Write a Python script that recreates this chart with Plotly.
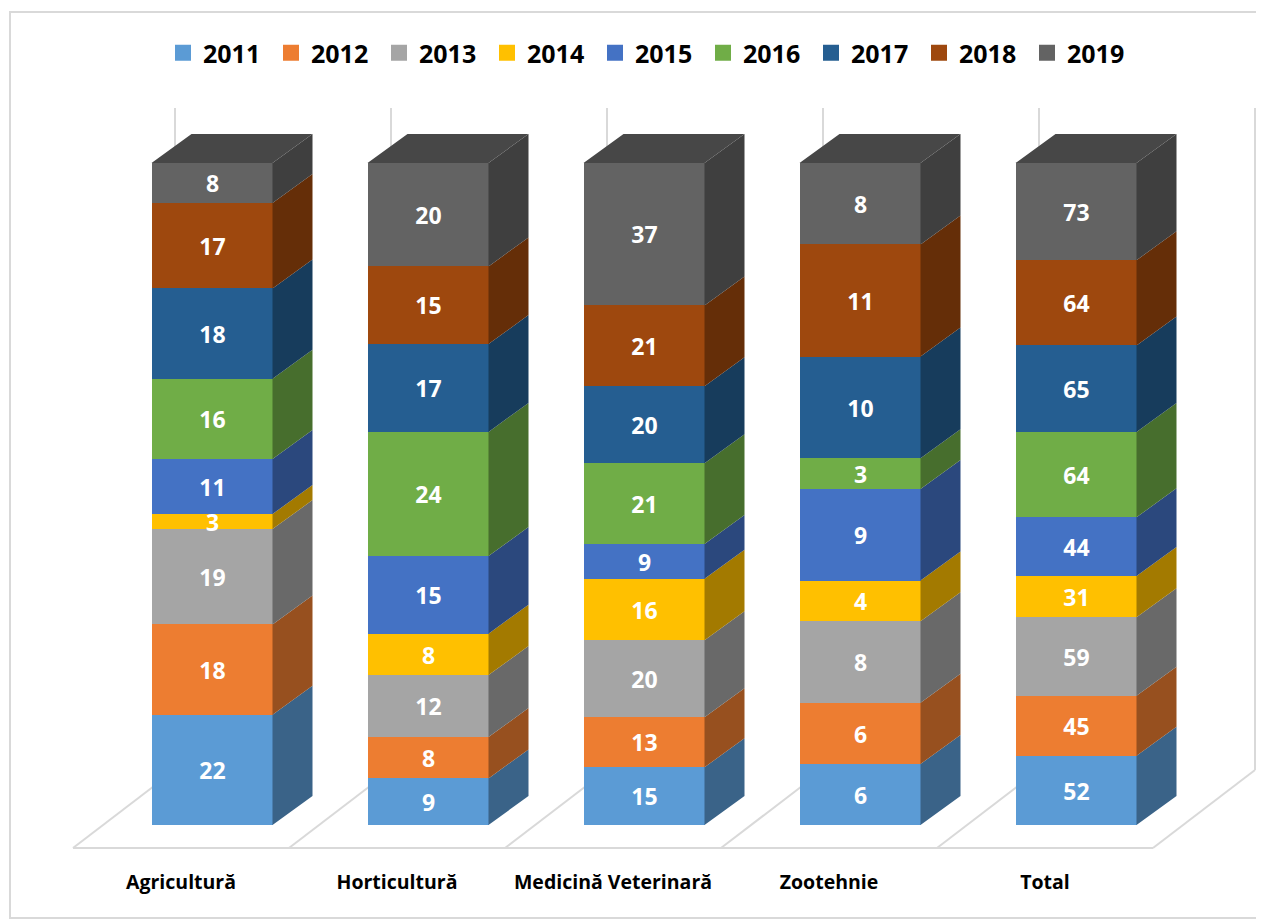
import plotly.graph_objects as go

# ---------------- data ----------------
categories = ["Agricultură", "Horticultură", "Medicină Veterinară", "Zootehnie", "Total"]
years = ["2011", "2012", "2013", "2014", "2015", "2016", "2017", "2018", "2019"]
v2011 = [22, 9, 15, 6, 52]
v2012 = [18, 8, 13, 6, 45]
v2013 = [19, 12, 20, 8, 59]
v2014 = [3, 8, 16, 4, 31]
v2015 = [11, 15, 9, 9, 44]
v2016 = [16, 24, 21, 3, 64]
v2017 = [18, 17, 20, 10, 65]
v2018 = [17, 15, 21, 11, 64]
v2019 = [8, 20, 37, 8, 73]
series = [v2011, v2012, v2013, v2014, v2015, v2016, v2017, v2018, v2019]

front_colors = ["#5B9BD5", "#ED7D31", "#A5A5A5", "#FFC000", "#4472C4",
                "#70AD47", "#255E91", "#9E480E", "#636363"]


def shade(hexcol, f):
    h = hexcol.lstrip("#")
    r, g, b = int(h[0:2], 16), int(h[2:4], 16), int(h[4:6], 16)
    return "#%02X%02X%02X" % (int(r * f), int(g * f), int(b * f))


side_colors = [shade(c, 0.64) for c in front_colors]
top_color = shade(front_colors[-1], 0.72)

# ---------------- geometry (pixel-based styling, screen coords) ----------------
OFF = 8                      # page body margin
W, H = 1264 - OFF, 921 - OFF
PX_X = 216.0                 # pixels per category
PX_Y = 6.62                  # pixels per percent
X0_PX = 212 - OFF            # first bar centre
Y0_PX = 825 - OFF            # 0 %
BOT_PX = 862 - OFF           # bottom of plot area

x_range = [-X0_PX / PX_X, (W - X0_PX) / PX_X]
y_range = [(Y0_PX - BOT_PX) / PX_Y, Y0_PX / PX_Y]

bar_w = 121 / PX_X
ddx, ddy = 40 / PX_X, 29 / PX_Y            # bar depth
fdx, fdy = -31 / PX_X, -23 / PX_Y          # floor front relative to bar front
wdx, wdy = 71 / PX_X, 55 / PX_Y            # back wall relative to bar front

xs = list(range(len(categories)))
totals = [sum(s[i] for s in series) for i in xs]
pcts = [[100.0 * s[i] / totals[i] for i in xs] for s in series]

fig = go.Figure()

# front faces
for k, yr in enumerate(years):
    fig.add_trace(go.Bar(
        x=xs, y=pcts[k], width=bar_w, name=yr, showlegend=False,
        marker=dict(color=front_colors[k], line=dict(width=0)),
        text=[str(v) for v in series[k]], textposition="inside", textangle=0,
        insidetextanchor="middle", constraintext="none",
        textfont=dict(family="Open Sans", size=23, color="white", weight="bold"),
        hoverinfo="skip",
    ))

# side faces
base = [0.0] * len(xs)
for k, yr in enumerate(years):
    px, py = [], []
    for i in xs:
        y0 = base[i]
        y1 = y0 + pcts[k][i]
        xr = i + bar_w / 2
        px += [xr, xr + ddx, xr + ddx, xr, xr, None]
        py += [y0, y0 + ddy, y1 + ddy, y1, y0, None]
        base[i] = y1
    fig.add_trace(go.Scatter(x=px, y=py, fill="toself", fillcolor=side_colors[k],
                             mode="lines", line=dict(width=0, color=side_colors[k]),
                             showlegend=False, hoverinfo="skip"))

# top faces
tx, ty = [], []
for i in xs:
    xl, xr = i - bar_w / 2, i + bar_w / 2
    tx += [xl, xr, xr + ddx, xl + ddx, xl, None]
    ty += [100, 100, 100 + ddy, 100 + ddy, 100, None]
fig.add_trace(go.Scatter(x=tx, y=ty, fill="toself", fillcolor=top_color, mode="lines",
                         line=dict(width=0, color=top_color), showlegend=False,
                         hoverinfo="skip"))

# legend entries
for k, yr in enumerate(years):
    fig.add_trace(go.Scatter(x=[None], y=[None], mode="markers", name=yr,
                             marker=dict(symbol="square", size=16, color=front_colors[k])))

# floor and back wall lines
grid = dict(color="#D9D9D9", width=2)
shapes = []
n = len(categories)
shapes.append(dict(type="line", xref="x", yref="y", layer="below",
                   x0=-0.5 + fdx, x1=n - 0.5 + fdx, y0=fdy, y1=fdy, line=grid))
for k in range(n + 1):
    bx = k - 0.5
    shapes.append(dict(type="line", xref="x", yref="y", layer="below",
                       x0=bx + fdx, y0=fdy, x1=bx + wdx, y1=wdy, line=grid))
    shapes.append(dict(type="line", xref="x", yref="y", layer="below",
                       x0=bx + wdx, y0=wdy, x1=bx + wdx, y1=100 + wdy, line=grid))
# outer border (screen px 10,12 -> 1261,918)
shapes.append(dict(type="rect", xref="paper", yref="paper", layer="below",
                   x0=(10 - OFF) / W, x1=(1261 - OFF) / W,
                   y0=(BOT_PX - (918 - OFF)) / BOT_PX, y1=(BOT_PX - (12 - OFF)) / BOT_PX,
                   line=dict(color="#D9D9D9", width=2)))

fig.update_layout(
    width=W, height=H,
    margin=dict(l=0, r=0, t=0, b=H - BOT_PX, pad=0),
    barmode="stack", bargap=0,
    plot_bgcolor="white", paper_bgcolor="white",
    shapes=shapes,
    showlegend=True,
    legend=dict(orientation="h", traceorder="normal", x=0.5 + 13 / W, xanchor="center",
                y=(BOT_PX - (53 - OFF)) / BOT_PX, yanchor="middle",
                font=dict(family="Open Sans", size=25, color="black", weight="bold"),
                itemwidth=30, entrywidth=63, tracegroupgap=0, bgcolor="rgba(0,0,0,0)"),
    xaxis=dict(range=x_range, showgrid=False, zeroline=False, showline=False,
               tickmode="array", tickvals=[i - 31 / PX_X for i in xs], ticktext=categories,
               ticks="", ticklabelstandoff=6,
               tickfont=dict(family="Open Sans", size=19.5, color="black", weight="bold")),
    yaxis=dict(range=y_range, visible=False, showgrid=False, zeroline=False),
)

fig.write_html("out.html")
